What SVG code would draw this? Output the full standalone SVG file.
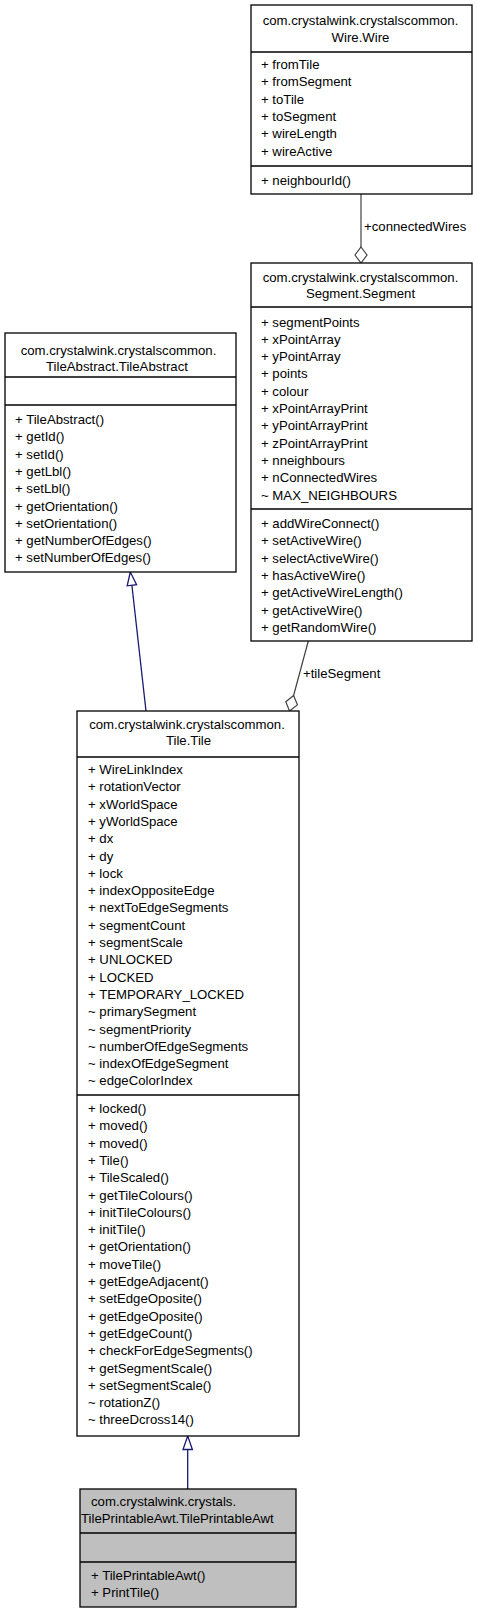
<svg xmlns="http://www.w3.org/2000/svg" width="477" height="1613" viewBox="0 0 477 1613">
<style>
text{font-family:"Liberation Sans",Arial,sans-serif;font-size:13.2px;fill:#000}
.box{fill:#fff;stroke:#000;stroke-width:1.3}
.cur{fill:#bfbfbf;stroke:#000;stroke-width:1.3}
.sep{stroke:#000;stroke-width:1.3}
.agg{stroke:#404040;stroke-width:1.2;fill:none}
.aggh{stroke:#404040;stroke-width:1.2;fill:#fff}
.inh{stroke:#191970;stroke-width:1.3;fill:none}
.inhh{stroke:#191970;stroke-width:1.3;fill:#fff}
.c{text-anchor:middle}
</style>
<rect width="477" height="1613" fill="#fff"/>
<g id="connectors">
<line class="agg" x1="361" y1="194" x2="361" y2="247"/>
<polygon class="aggh" points="361,247 367,255 361,263 355,255"/>
<text x="364" y="231">+connectedWires</text>
<line class="agg" x1="308.3" y1="641" x2="293.6" y2="695.5"/>
<polygon class="aggh" points="293.6,695.5 297.4,704.9 289.5,711 285.8,701.8"/>
<text x="303" y="678">+tileSegment</text>
<line class="inh" x1="146" y1="711" x2="131.9" y2="585.2"/>
<polygon class="inhh" points="130.3,572 136.6,584.6 127.2,585.8"/>
<line class="inh" x1="187.7" y1="1489" x2="187.7" y2="1449.5"/>
<polygon class="inhh" points="187.7,1436 192.4,1449.5 183,1449.5"/>
</g>
<g id="wire">
<rect class="box" x="251" y="5" width="221" height="189"/>
<line class="sep" x1="251" y1="52" x2="472" y2="52"/>
<line class="sep" x1="251" y1="166" x2="472" y2="166"/>
<text class="c" x="360.5" y="24.5">com.crystalwink.crystalscommon.</text>
<text class="c" x="360.5" y="41.5">Wire.Wire</text>
<text x="261"><tspan x="261" y="69">+ fromTile</tspan><tspan x="261" dy="17.3">+ fromSegment</tspan><tspan x="261" dy="17.3">+ toTile</tspan><tspan x="261" dy="17.3">+ toSegment</tspan><tspan x="261" dy="17.3">+ wireLength</tspan><tspan x="261" dy="17.3">+ wireActive</tspan></text>
<text x="261" y="185">+ neighbourId()</text>
</g>
<g id="segment">
<rect class="box" x="251" y="263" width="221" height="378"/>
<line class="sep" x1="251" y1="307" x2="472" y2="307"/>
<line class="sep" x1="251" y1="509" x2="472" y2="509"/>
<text class="c" x="360.5" y="282">com.crystalwink.crystalscommon.</text>
<text class="c" x="360.5" y="298">Segment.Segment</text>
<text x="261"><tspan x="261" y="326.5">+ segmentPoints</tspan><tspan x="261" dy="17.3">+ xPointArray</tspan><tspan x="261" dy="17.3">+ yPointArray</tspan><tspan x="261" dy="17.3">+ points</tspan><tspan x="261" dy="17.3">+ colour</tspan><tspan x="261" dy="17.3">+ xPointArrayPrint</tspan><tspan x="261" dy="17.3">+ yPointArrayPrint</tspan><tspan x="261" dy="17.3">+ zPointArrayPrint</tspan><tspan x="261" dy="17.3">+ nneighbours</tspan><tspan x="261" dy="17.3">+ nConnectedWires</tspan><tspan x="261" dy="17.3">~ MAX_NEIGHBOURS</tspan></text>
<text x="261"><tspan x="261" y="528">+ addWireConnect()</tspan><tspan x="261" dy="17.3">+ setActiveWire()</tspan><tspan x="261" dy="17.3">+ selectActiveWire()</tspan><tspan x="261" dy="17.3">+ hasActiveWire()</tspan><tspan x="261" dy="17.3">+ getActiveWireLength()</tspan><tspan x="261" dy="17.3">+ getActiveWire()</tspan><tspan x="261" dy="17.3">+ getRandomWire()</tspan></text>
</g>
<g id="tileabstract">
<rect class="box" x="5" y="333" width="231" height="239"/>
<line class="sep" x1="5" y1="377" x2="236" y2="377"/>
<line class="sep" x1="5" y1="405" x2="236" y2="405"/>
<text class="c" x="118.5" y="355">com.crystalwink.crystalscommon.</text>
<text class="c" x="117" y="370.5">TileAbstract.TileAbstract</text>
<text x="15"><tspan x="15" y="424">+ TileAbstract()</tspan><tspan x="15" dy="17.3">+ getId()</tspan><tspan x="15" dy="17.3">+ setId()</tspan><tspan x="15" dy="17.3">+ getLbl()</tspan><tspan x="15" dy="17.3">+ setLbl()</tspan><tspan x="15" dy="17.3">+ getOrientation()</tspan><tspan x="15" dy="17.3">+ setOrientation()</tspan><tspan x="15" dy="17.3">+ getNumberOfEdges()</tspan><tspan x="15" dy="17.3">+ setNumberOfEdges()</tspan></text>
</g>
<g id="tile">
<rect class="box" x="77" y="711" width="222" height="725"/>
<line class="sep" x1="77" y1="757" x2="299" y2="757"/>
<line class="sep" x1="77" y1="1095" x2="299" y2="1095"/>
<text class="c" x="187" y="728.5">com.crystalwink.crystalscommon.</text>
<text class="c" x="188.5" y="745">Tile.Tile</text>
<text x="88"><tspan x="88" y="774">+ WireLinkIndex</tspan><tspan x="88" dy="17.3">+ rotationVector</tspan><tspan x="88" dy="17.3">+ xWorldSpace</tspan><tspan x="88" dy="17.3">+ yWorldSpace</tspan><tspan x="88" dy="17.3">+ dx</tspan><tspan x="88" dy="17.3">+ dy</tspan><tspan x="88" dy="17.3">+ lock</tspan><tspan x="88" dy="17.3">+ indexOppositeEdge</tspan><tspan x="88" dy="17.3">+ nextToEdgeSegments</tspan><tspan x="88" dy="17.3">+ segmentCount</tspan><tspan x="88" dy="17.3">+ segmentScale</tspan><tspan x="88" dy="17.3">+ UNLOCKED</tspan><tspan x="88" dy="17.3">+ LOCKED</tspan><tspan x="88" dy="17.3">+ TEMPORARY_LOCKED</tspan><tspan x="88" dy="17.3">~ primarySegment</tspan><tspan x="88" dy="17.3">~ segmentPriority</tspan><tspan x="88" dy="17.3">~ numberOfEdgeSegments</tspan><tspan x="88" dy="17.3">~ indexOfEdgeSegment</tspan><tspan x="88" dy="17.3">~ edgeColorIndex</tspan></text>
<text x="88"><tspan x="88" y="1113">+ locked()</tspan><tspan x="88" dy="17.3">+ moved()</tspan><tspan x="88" dy="17.3">+ moved()</tspan><tspan x="88" dy="17.3">+ Tile()</tspan><tspan x="88" dy="17.3">+ TileScaled()</tspan><tspan x="88" dy="17.3">+ getTileColours()</tspan><tspan x="88" dy="17.3">+ initTileColours()</tspan><tspan x="88" dy="17.3">+ initTile()</tspan><tspan x="88" dy="17.3">+ getOrientation()</tspan><tspan x="88" dy="17.3">+ moveTile()</tspan><tspan x="88" dy="17.3">+ getEdgeAdjacent()</tspan><tspan x="88" dy="17.3">+ setEdgeOposite()</tspan><tspan x="88" dy="17.3">+ getEdgeOposite()</tspan><tspan x="88" dy="17.3">+ getEdgeCount()</tspan><tspan x="88" dy="17.3">+ checkForEdgeSegments()</tspan><tspan x="88" dy="17.3">+ getSegmentScale()</tspan><tspan x="88" dy="17.3">+ setSegmentScale()</tspan><tspan x="88" dy="17.3">~ rotationZ()</tspan><tspan x="88" dy="17.3">~ threeDcross14()</tspan></text>
</g>
<g id="tileprintableawt">
<rect class="cur" x="80" y="1489" width="216" height="118"/>
<line class="sep" x1="80" y1="1533" x2="296" y2="1533"/>
<line class="sep" x1="80" y1="1562" x2="296" y2="1562"/>
<text x="91" y="1506">com.crystalwink.crystals.</text>
<text x="81" y="1523">TilePrintableAwt.TilePrintableAwt</text>
<text x="91"><tspan x="91" y="1580">+ TilePrintableAwt()</tspan><tspan x="91" dy="17.3">+ PrintTile()</tspan></text>
</g>
</svg>
